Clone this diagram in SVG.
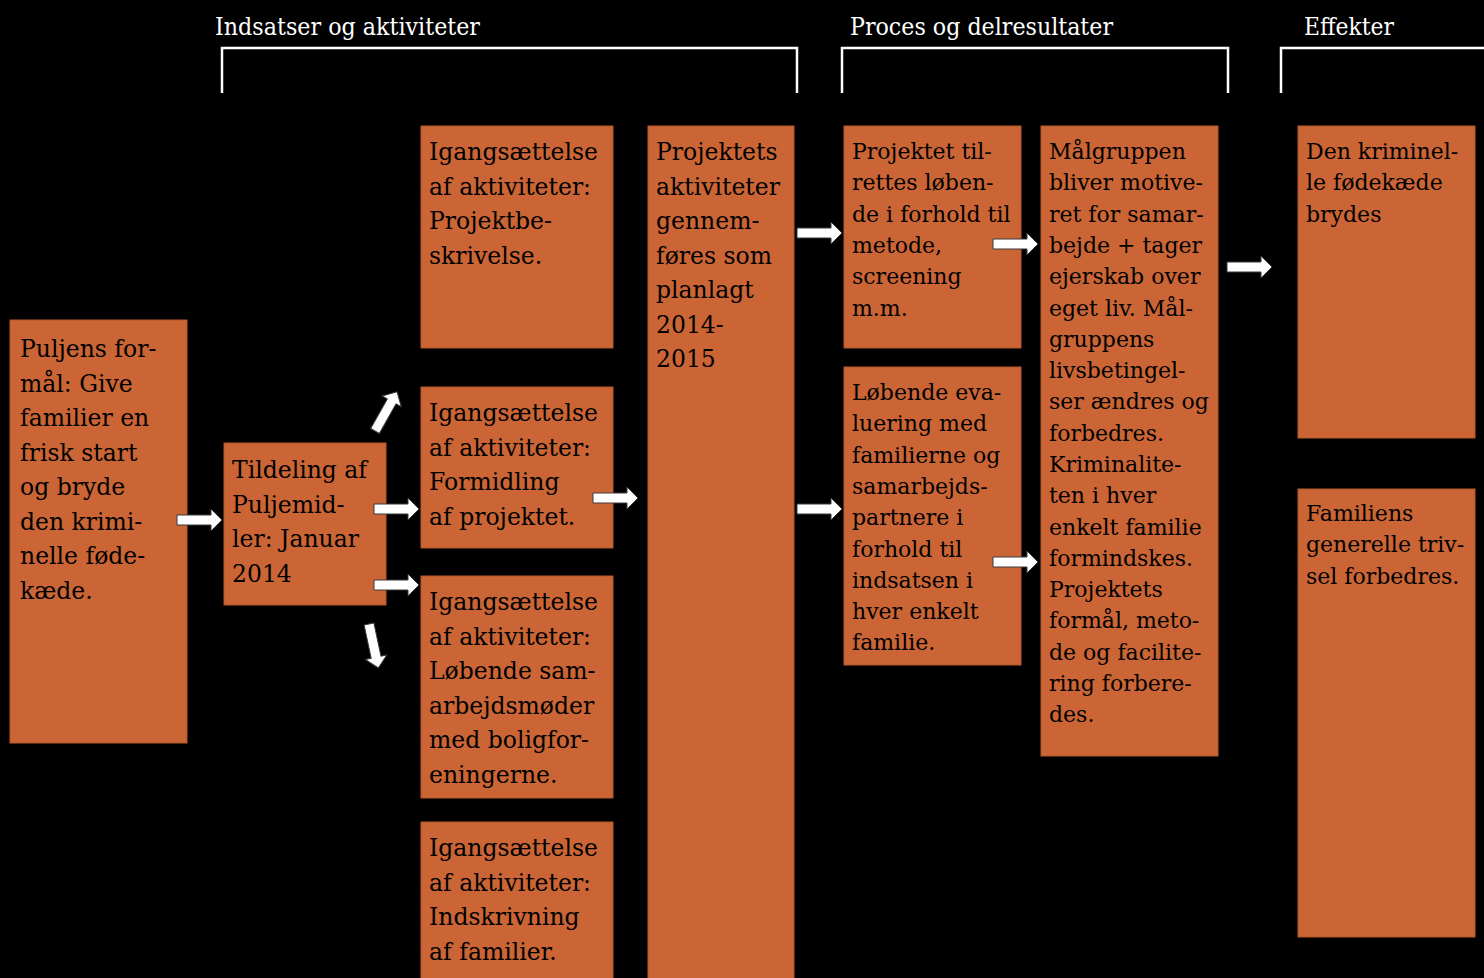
<svg xmlns="http://www.w3.org/2000/svg" width="1484" height="978" viewBox="0 0 1484 978">
<style>
.box{fill:#CB6535;stroke:#B4592C;stroke-width:1}
.t{font-family:"DejaVu Serif","Liberation Serif",serif;font-size:23.5px;fill:#000}
.s{font-family:"DejaVu Serif","Liberation Serif",serif;font-size:22px;fill:#000}
.h{font-family:"DejaVu Serif","Liberation Serif",serif;font-size:24px;fill:#fff}
.br{fill:none;stroke:#fff;stroke-width:2.5}
.ar{fill:#fff;stroke:#3a3a3a;stroke-width:1}
</style>
<defs>
<path id="arr" d="M0,-5 H34 V-11 L45,0 L34,11 V5 H0 Z"/>
</defs>
<rect width="1484" height="978" fill="#000"/>
<g id="headers">
<text class="h" x="215" y="35" textLength="265" lengthAdjust="spacingAndGlyphs">Indsatser og aktiviteter</text>
<text class="h" x="850" y="35" textLength="263" lengthAdjust="spacingAndGlyphs">Proces og delresultater</text>
<text class="h" x="1304" y="35" textLength="90" lengthAdjust="spacingAndGlyphs">Effekter</text>
<path class="br" d="M222,93 V48 H797 V93"/>
<path class="br" d="M842,93 V48 H1228 V93"/>
<path class="br" d="M1281,93 V48 H1490"/>
</g>
<g id="n1"><rect class="box" x="10" y="320" width="177" height="423"/>
<text class="t" x="20" y="357"><tspan x="20">Puljens for-</tspan><tspan x="20" dy="34.5">mål: Give</tspan><tspan x="20" dy="34.5">familier en</tspan><tspan x="20" dy="34.5">frisk start</tspan><tspan x="20" dy="34.5">og bryde</tspan><tspan x="20" dy="34.5">den krimi-</tspan><tspan x="20" dy="34.5">nelle føde-</tspan><tspan x="20" dy="34.5">kæde.</tspan></text></g>
<g id="n2"><rect class="box" x="224" y="443" width="162" height="162"/>
<text class="t" x="232" y="478"><tspan x="232">Tildeling af</tspan><tspan x="232" dy="34.5">Puljemid-</tspan><tspan x="232" dy="34.5">ler: Januar</tspan><tspan x="232" dy="34.5">2014</tspan></text></g>
<g id="n3a"><rect class="box" x="421" y="126" width="192" height="222"/>
<text class="t" x="429" y="160"><tspan x="429">Igangsættelse</tspan><tspan x="429" dy="34.5">af aktiviteter:</tspan><tspan x="429" dy="34.5">Projektbe-</tspan><tspan x="429" dy="34.5">skrivelse.</tspan></text></g>
<g id="n3b"><rect class="box" x="421" y="387" width="192" height="161"/>
<text class="t" x="429" y="421"><tspan x="429">Igangsættelse</tspan><tspan x="429" dy="34.5">af aktiviteter:</tspan><tspan x="429" dy="34.5">Formidling</tspan><tspan x="429" dy="34.5">af projektet.</tspan></text></g>
<g id="n3c"><rect class="box" x="421" y="576" width="192" height="222"/>
<text class="t" x="429" y="610"><tspan x="429">Igangsættelse</tspan><tspan x="429" dy="34.5">af aktiviteter:</tspan><tspan x="429" dy="34.5">Løbende sam-</tspan><tspan x="429" dy="34.5">arbejdsmøder</tspan><tspan x="429" dy="34.5">med boligfor-</tspan><tspan x="429" dy="34.5">eningerne.</tspan></text></g>
<g id="n3d"><rect class="box" x="421" y="822" width="192" height="170"/>
<text class="t" x="429" y="856"><tspan x="429">Igangsættelse</tspan><tspan x="429" dy="34.5">af aktiviteter:</tspan><tspan x="429" dy="34.5">Indskrivning</tspan><tspan x="429" dy="34.5">af familier.</tspan></text></g>
<g id="n4"><rect class="box" x="648" y="126" width="146" height="866"/>
<text class="t" x="656" y="160"><tspan x="656">Projektets</tspan><tspan x="656" dy="34.5">aktiviteter</tspan><tspan x="656" dy="34.5">gennem-</tspan><tspan x="656" dy="34.5">føres som</tspan><tspan x="656" dy="34.5">planlagt</tspan><tspan x="656" dy="34.5">2014-</tspan><tspan x="656" dy="34.5">2015</tspan></text></g>
<g id="n5a"><rect class="box" x="844" y="126" width="177" height="222"/>
<text class="s" x="852" y="159"><tspan x="852">Projektet til-</tspan><tspan x="852" dy="31.3">rettes løben-</tspan><tspan x="852" dy="31.3">de i forhold til</tspan><tspan x="852" dy="31.3">metode,</tspan><tspan x="852" dy="31.3">screening</tspan><tspan x="852" dy="31.3">m.m.</tspan></text></g>
<g id="n5b"><rect class="box" x="844" y="367" width="177" height="298"/>
<text class="s" x="852" y="400"><tspan x="852">Løbende eva-</tspan><tspan x="852" dy="31.3">luering med</tspan><tspan x="852" dy="31.3">familierne og</tspan><tspan x="852" dy="31.3">samarbejds-</tspan><tspan x="852" dy="31.3">partnere i</tspan><tspan x="852" dy="31.3">forhold til</tspan><tspan x="852" dy="31.3">indsatsen i</tspan><tspan x="852" dy="31.3">hver enkelt</tspan><tspan x="852" dy="31.3">familie.</tspan></text></g>
<g id="n6"><rect class="box" x="1041" y="126" width="177" height="630"/>
<text class="s" x="1049" y="159"><tspan x="1049">Målgruppen</tspan><tspan x="1049" dy="31.3">bliver motive-</tspan><tspan x="1049" dy="31.3">ret for samar-</tspan><tspan x="1049" dy="31.3">bejde + tager</tspan><tspan x="1049" dy="31.3">ejerskab over</tspan><tspan x="1049" dy="31.3">eget liv. Mål-</tspan><tspan x="1049" dy="31.3">gruppens</tspan><tspan x="1049" dy="31.3">livsbetingel-</tspan><tspan x="1049" dy="31.3">ser ændres og</tspan><tspan x="1049" dy="31.3">forbedres.</tspan><tspan x="1049" dy="31.3">Kriminalite-</tspan><tspan x="1049" dy="31.3">ten i hver</tspan><tspan x="1049" dy="31.3">enkelt familie</tspan><tspan x="1049" dy="31.3">formindskes.</tspan><tspan x="1049" dy="31.3">Projektets</tspan><tspan x="1049" dy="31.3">formål, meto-</tspan><tspan x="1049" dy="31.3">de og facilite-</tspan><tspan x="1049" dy="31.3">ring forbere-</tspan><tspan x="1049" dy="31.3">des.</tspan></text></g>
<g id="n7a"><rect class="box" x="1298" y="126" width="177" height="312"/>
<text class="s" x="1306" y="159"><tspan x="1306">Den kriminel-</tspan><tspan x="1306" dy="31.3">le fødekæde</tspan><tspan x="1306" dy="31.3">brydes</tspan></text></g>
<g id="n7b"><rect class="box" x="1298" y="489" width="177" height="448"/>
<text class="s" x="1306" y="521"><tspan x="1306">Familiens</tspan><tspan x="1306" dy="31.3">generelle triv-</tspan><tspan x="1306" dy="31.3">sel forbedres.</tspan></text></g>
<g id="connectors">
<use href="#arr" class="ar" transform="translate(177,520)"/>
<use href="#arr" class="ar" transform="translate(374,509)"/>
<use href="#arr" class="ar" transform="translate(374,585)"/>
<use href="#arr" class="ar" transform="translate(593,498)"/>
<use href="#arr" class="ar" transform="translate(797,233)"/>
<use href="#arr" class="ar" transform="translate(797,509)"/>
<use href="#arr" class="ar" transform="translate(993,244)"/>
<use href="#arr" class="ar" transform="translate(993,562)"/>
<use href="#arr" class="ar" transform="translate(1227,267)"/>
<use href="#arr" class="ar" transform="translate(375,431) rotate(-60.6)"/>
<use href="#arr" class="ar" transform="translate(369,624) rotate(78)"/>
</g>
</svg>
